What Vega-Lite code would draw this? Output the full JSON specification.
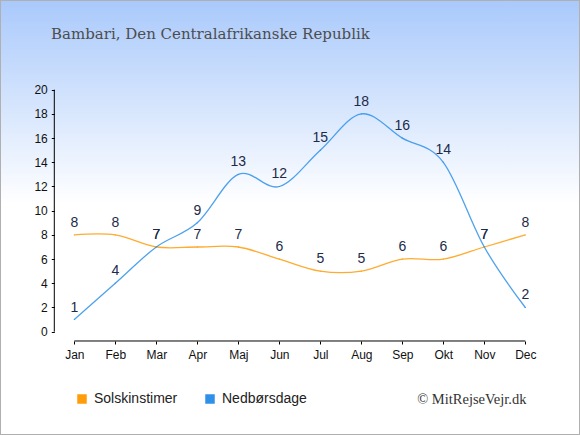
{
  "$schema": "https://vega.github.io/schema/vega-lite/v6.json",
  "width": 580,
  "height": 435,
  "autosize": {"type": "none"},
  "padding": 0,
  "background": "#ffffff",
  "title": {
    "text": "Bambari, Den Centralafrikanske Republik",
    "anchor": "start",
    "frame": "group",
    "dx": 51,
    "offset": -54,
    "baseline": "alphabetic",
    "font": "DejaVu Serif",
    "fontSize": 15,
    "fontWeight": "normal",
    "color": "#4d4d4d"
  },
  "datasets": {
    "klima": [
      {"month": 1, "serie": "Solskinstimer", "v": 8},
      {"month": 2, "serie": "Solskinstimer", "v": 8},
      {"month": 3, "serie": "Solskinstimer", "v": 7},
      {"month": 4, "serie": "Solskinstimer", "v": 7},
      {"month": 5, "serie": "Solskinstimer", "v": 7},
      {"month": 6, "serie": "Solskinstimer", "v": 6},
      {"month": 7, "serie": "Solskinstimer", "v": 5},
      {"month": 8, "serie": "Solskinstimer", "v": 5},
      {"month": 9, "serie": "Solskinstimer", "v": 6},
      {"month": 10, "serie": "Solskinstimer", "v": 6},
      {"month": 11, "serie": "Solskinstimer", "v": 7},
      {"month": 12, "serie": "Solskinstimer", "v": 8},
      {"month": 1, "serie": "Nedbørsdage", "v": 1},
      {"month": 2, "serie": "Nedbørsdage", "v": 4},
      {"month": 3, "serie": "Nedbørsdage", "v": 7},
      {"month": 4, "serie": "Nedbørsdage", "v": 9},
      {"month": 5, "serie": "Nedbørsdage", "v": 13},
      {"month": 6, "serie": "Nedbørsdage", "v": 12},
      {"month": 7, "serie": "Nedbørsdage", "v": 15},
      {"month": 8, "serie": "Nedbørsdage", "v": 18},
      {"month": 9, "serie": "Nedbørsdage", "v": 16},
      {"month": 10, "serie": "Nedbørsdage", "v": 14},
      {"month": 11, "serie": "Nedbørsdage", "v": 7},
      {"month": 12, "serie": "Nedbørsdage", "v": 2}
    ],
    "axes": [
      {"axis": "y"}
    ]
  },
  "layer": [
    {
      "data": {"name": "klima"},
      "mark": {"type": "line", "interpolate": "cardinal", "strokeWidth": 1.3, "opacity": 0.85},
      "encoding": {
        "x": {
          "field": "month",
          "type": "quantitative",
          "scale": {"domain": [-0.8122, 13.3341], "nice": false, "zero": false},
          "axis": {
            "values": [1, 2, 3, 4, 5, 6, 7, 8, 9, 10, 11, 12],
            "labelExpr": "['Jan','Feb','Mar','Apr','Maj','Jun','Jul','Aug','Sep','Okt','Nov','Dec'][datum.value - 1]",
            "offset": -94,
            "domain": false,
            "grid": false,
            "tickSize": 3,
            "labelPadding": 5,
            "title": "© MitRejseVejr.dk",
            "titleFont": "Liberation Serif",
            "titleFontSize": 14.5,
            "titleFontWeight": "normal",
            "titleColor": "#333333",
            "titleAlign": "right",
            "titleBaseline": "alphabetic",
            "titleAnchor": null,
            "titleX": 526,
            "titleY": 62
          }
        },
        "y": {
          "field": "v",
          "type": "quantitative",
          "scale": {"domain": [-8.5372, 27.4132], "nice": false, "zero": false},
          "axis": {
            "values": [0, 2, 4, 6, 8, 10, 12, 14, 16, 18, 20],
            "offset": -54.3,
            "domain": false,
            "grid": false,
            "tickSize": 3,
            "labelPadding": 4,
            "title": null
          }
        },
        "stroke": {
          "field": "serie",
          "type": "nominal",
          "scale": {"domain": ["Nedbørsdage", "Solskinstimer"], "range": ["#2F90EA", "#FF9C0A"]},
          "legend": null
        }
      }
    },
    {
      "data": {"name": "klima"},
      "mark": {"type": "square", "size": 1, "opacity": 1},
      "encoding": {
        "x": {"field": "month", "type": "quantitative"},
        "y": {"field": "v", "type": "quantitative"},
        "fill": {
          "field": "serie",
          "type": "nominal",
          "scale": {"domain": ["Solskinstimer", "Nedbørsdage"], "range": ["#FF9C0A", "#2F90EA"]},
          "legend": {
            "orient": "none",
            "legendX": 75,
            "legendY": 392,
            "direction": "horizontal",
            "title": null,
            "symbolType": "square",
            "symbolSize": 90,
            "symbolOpacity": 1,
            "labelOffset": 5,
            "columnPadding": 25,
            "labelFont": "Liberation Sans",
            "labelFontSize": 14,
            "labelColor": "#222222"
          }
        }
      }
    },
    {
      "data": {"name": "klima"},
      "mark": {"type": "text", "baseline": "alphabetic", "align": "center", "dy": -8, "font": "Liberation Sans", "fontSize": 14, "color": "#1c2b4a"},
      "encoding": {
        "x": {"field": "month", "type": "quantitative"},
        "y": {"field": "v", "type": "quantitative"},
        "text": {"field": "v", "type": "quantitative"}
      }
    },
    {
      "data": {"name": "axes"},
      "mark": {"type": "rule", "color": "#000000", "strokeWidth": 1},
      "encoding": {
        "x": {"datum": 0.5122},
        "y": {"datum": 0},
        "y2": {"datum": 20}
      }
    },
    {
      "data": {"name": "axes"},
      "mark": {"type": "rule", "color": "#000000", "strokeWidth": 1},
      "encoding": {
        "y": {"datum": -0.7686},
        "x": {"datum": 1},
        "x2": {"datum": 12}
      }
    }
  ],
  "config": {
    "view": {
      "fill": {
        "gradient": "linear",
        "x1": 0, "y1": 0, "x2": 0, "y2": 1,
        "stops": [
          {"offset": 0, "color": "#a9c9fb"},
          {"offset": 0.47, "color": "#ffffff"},
          {"offset": 1, "color": "#ffffff"}
        ]
      },
      "stroke": "#b0b0b0",
      "strokeWidth": 2
    },
    "axis": {
      "labelFont": "Liberation Sans",
      "labelFontSize": 12,
      "labelColor": "#111111",
      "tickColor": "#000000"
    }
  }
}
